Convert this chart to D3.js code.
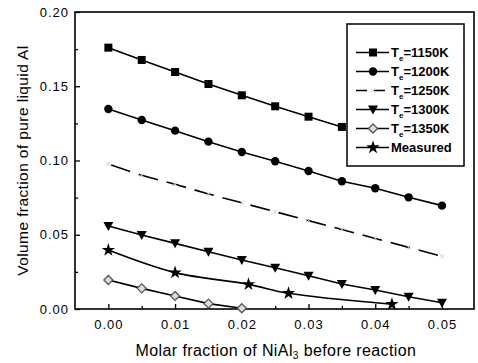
<!DOCTYPE html>
<html><head><meta charset="utf-8">
<script src="https://cdn.jsdelivr.net/npm/d3@7"></script>
<style>body{margin:0;background:#fff}svg{display:block}text{font-family:"Liberation Sans",Arial,sans-serif;fill:#000}</style>
</head><body><svg id="c" width="478" height="363"></svg>
<script>
const xs = [0,0.005,0.01,0.015,0.02,0.025,0.03,0.035,0.04,0.045,0.05];
const t1150 = [0.176,0.1677,0.1596,0.1515,0.1439,0.1365,0.1295,0.1226];
const t1200 = [0.1347,0.1273,0.1201,0.1127,0.1057,0.0995,0.0929,0.0860,0.0813,0.0752,0.0696];
const t1250 = [0.0976,0.0900,0.0840,0.0775,0.0715,0.0655,0.0595,0.0535,0.0475,0.0415,0.0355];
const t1300 = [0.0559,0.0498,0.0442,0.0386,0.0330,0.0278,0.0224,0.0168,0.0128,0.0083,0.0042];
const t1350 = [0.0195,0.0139,0.0088,0.0036,0.0005];
const measX = [0,0.01,0.021,0.027,0.0425];
const measY = [0.0397,0.0245,0.0166,0.0106,0.0032];
const legendLabels = ["1150K","1200K","1250K","1300K","1350K","Measured"];
const xTicks = [0,0.01,0.02,0.03,0.04,0.05];
const yTicks = [0,0.05,0.10,0.15,0.20];

const svg = d3.select("#c");
const L=75,R=474,T=12,B=309;
const x = d3.scaleLinear([-0.005,0.0548],[L,R]);
const y = d3.scaleLinear([0,0.2],[B,T]);

// axes (inward ticks)
const gx = svg.append("g").attr("transform",`translate(0,${B})`)
  .call(d3.axisBottom(x).tickValues(xTicks).tickFormat(d3.format(".2f")).tickSize(-5).tickPadding(11));
const gxm = svg.append("g").attr("transform",`translate(0,${B})`)
  .call(d3.axisBottom(x).tickValues([0.005,0.015,0.025,0.035,0.045]).tickFormat("").tickSize(-3));
const gy = svg.append("g").attr("transform",`translate(${L},0)`)
  .call(d3.axisLeft(y).tickValues(yTicks).tickFormat(d3.format(".2f")).tickSize(-5).tickPadding(7));
const gym = svg.append("g").attr("transform",`translate(${L},0)`)
  .call(d3.axisLeft(y).tickValues([0.025,0.075,0.125,0.175]).tickFormat("").tickSize(-3));
[gx,gxm,gy,gym].forEach(g=>{g.select(".domain").remove();g.selectAll("line").attr("stroke","#000").attr("stroke-width",1.3);
  g.selectAll("text").style("font-size","13px").style("letter-spacing","1px").attr("fill","#000");});
gy.selectAll("text").attr("dx","1");
svg.append("rect").attr("x",L).attr("y",T).attr("width",R-L).attr("height",B-T)
  .attr("fill","none").attr("stroke","#000").attr("stroke-width",1.6);

// symbols
function marker(g,type,cx,cy){
  if(type==="square") g.append("rect").attr("x",cx-4).attr("y",cy-4).attr("width",8).attr("height",8).attr("fill","#000");
  else if(type==="circle") g.append("circle").attr("cx",cx).attr("cy",cy).attr("r",4.2).attr("fill","#000");
  else if(type==="tri") g.append("path").attr("d",`M${cx-5},${cy-4}L${cx+5},${cy-4}L${cx},${cy+5}Z`).attr("fill","#000");
  else if(type==="diamond") g.append("path").attr("d",`M${cx},${cy-4.5}L${cx+4.5},${cy}L${cx},${cy+4.5}L${cx-4.5},${cy}Z`).attr("fill","#ddd").attr("stroke","#555").attr("stroke-width",1.3);
  else if(type==="star") g.append("path").attr("d",d3.symbol(d3.symbolStar,55)()).attr("transform",`translate(${cx},${cy})`).attr("fill","#000");
  else if(type==="faint") g.append("path").attr("d",`M${cx-2},${cy-2}L${cx+2},${cy+2}M${cx-2},${cy+2}L${cx+2},${cy-2}`).attr("stroke","#ccc").attr("stroke-width",1);
}
const series = [
  {v:t1150,m:"square",dash:null},
  {v:t1200,m:"circle",dash:null},
  {v:t1250,m:"faint",dash:"20,9"},
  {v:t1300,m:"tri",dash:null},
  {v:t1350,m:"diamond",dash:null}
];
const line = d3.line().x(d=>x(d[0])).y(d=>y(d[1]));
series.forEach(s=>{
  const pts = s.v.map((v,i)=>[xs[i],v]);
  const g = svg.append("g");
  const p = g.append("path").attr("d",line(pts)).attr("fill","none").attr("stroke","#000").attr("stroke-width",1.6);
  if(s.dash) p.attr("stroke-dasharray",s.dash).attr("stroke-dashoffset",-3);
  pts.forEach(d=>marker(g,s.m,x(d[0]),y(d[1])));
});
// measured
const mpts = measX.map((v,i)=>[v,measY[i]]);
const gm = svg.append("g");
gm.append("path").attr("d",d3.line().x(d=>x(d[0])).y(d=>y(d[1])).curve(d3.curveCatmullRom.alpha(0.5))(mpts))
  .attr("fill","none").attr("stroke","#000").attr("stroke-width",1.6);
mpts.forEach(d=>marker(gm,"star",x(d[0]),y(d[1])));

// legend
const lg = svg.append("g");
lg.append("rect").attr("x",347).attr("y",24).attr("width",117).attr("height",142).attr("fill","#fff").attr("stroke","#000").attr("stroke-width",1.5);
const types=["square","circle","faint","tri","diamond","star"];
legendLabels.forEach((lab,i)=>{
  const cy = 52.5 + i*19;
  const ln = lg.append("line").attr("x1",356).attr("x2",389).attr("y1",cy).attr("y2",cy).attr("stroke","#000").attr("stroke-width",1.6);
  if(i===2) ln.attr("stroke-dasharray","11,7");
  marker(lg,types[i],373,cy);
  const t = lg.append("text").attr("x",391).attr("y",cy+4.5).style("font-size","13px").style("font-weight","bold");
  if(i<5){
    t.append("tspan").text("T");
    t.append("tspan").text("e").attr("dy",4).style("font-size","8px");
    t.append("tspan").text("="+lab).attr("dy",-4);
  } else t.text(lab);
});

// axis titles
const xt = svg.append("text").attr("x",276).attr("y",356).attr("text-anchor","middle").style("font-size","16px").style("letter-spacing","0.4px");
xt.append("tspan").text("Molar fraction of NiAl");
xt.append("tspan").text("3").attr("dy",3).style("font-size","10px");
xt.append("tspan").text(" before reaction").attr("dy",-3);
svg.append("text").attr("transform",`translate(28,${(T+B)/2}) rotate(-90)`).attr("text-anchor","middle")
  .style("font-size","15.5px").style("letter-spacing","0.4px").text("Volume fraction of pure liquid Al");
</script></body></html>
